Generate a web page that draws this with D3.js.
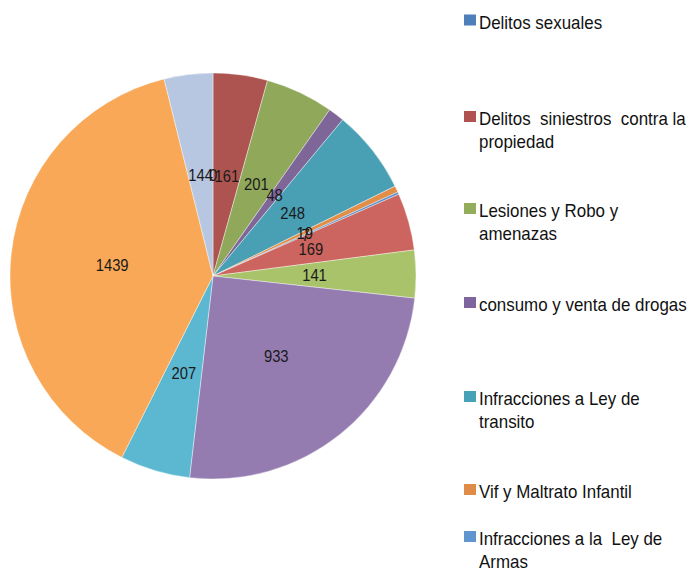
<!DOCTYPE html>
<html>
<head>
<meta charset="utf-8">
<script src="https://cdn.jsdelivr.net/npm/d3@7"></script>
<style>
  html, body { margin: 0; padding: 0; background: #ffffff; }
  svg { display: block; }
  text { font-family: "Liberation Sans", Arial, sans-serif; }
</style>
</head>
<body>
<svg id="chart" width="698" height="571"></svg>
<script>
// ---- data ----
const categories = [
  "Delitos sexuales",
  "Delitos siniestros contra la propiedad",
  "Lesiones y Robo y amenazas",
  "consumo y venta de drogas",
  "Infracciones a Ley de transito",
  "Vif y Maltrato Infantil",
  "Infracciones a la Ley de Armas",
  "Categoría 8",
  "Categoría 9",
  "Categoría 10",
  "Categoría 11",
  "Categoría 12",
  "Categoría 13"
];
const values = [0, 161, 201, 48, 248, 19, 7, 169, 141, 933, 207, 1439, 144];
const sliceColors = [
  "#4f81bd", "#ad5450", "#8fa85a", "#7f6699", "#49a0b4", "#e38e48",
  "#5b91cf", "#cc655f", "#a9c36a", "#947bb0", "#5cb8d1", "#f8a857", "#b8c7e1"
];
// legend shows only the first seven entries (the rest are clipped in the original)
const legendLines = [
  ["Delitos sexuales"],
  ["Delitos  siniestros  contra la", "propiedad"],
  ["Lesiones y Robo y", "amenazas"],
  ["consumo y venta de drogas"],
  ["Infracciones a Ley de", "transito"],
  ["Vif y Maltrato Infantil"],
  ["Infracciones a la  Ley de", "Armas"]
];
const legendColors = ["#4f7fb8", "#b0524f", "#93ad5c", "#7f659d", "#47a2b7", "#de8c48", "#6095d0"];

// ---- layout ----
const cx = 213, cy = 276, r = 203;
const legendBaselines = [28.5, 125, 217, 311, 405, 498, 545];
const legendX = 464, lineH = 23.5;

const svg = d3.select("#chart");
const data = values.map((v, i) => ({ name: categories[i], value: v, color: sliceColors[i] }));

const pie = d3.pie().value(d => d.value).sort(null);
const arc = d3.arc().innerRadius(0).outerRadius(r);
const labelArc = d3.arc().innerRadius(0).outerRadius(r);

const g = svg.append("g").attr("transform", `translate(${cx},${cy})`);
const arcs = pie(data);

g.selectAll("path")
  .data(arcs)
  .join("path")
  .attr("d", arc)
  .attr("fill", d => d.data.color)
  .attr("stroke", "#ffffff")
  .attr("stroke-width", 0.4);

g.selectAll("text.lbl")
  .data(arcs)
  .join("text")
  .attr("class", "lbl")
  .attr("transform", d => {
    const [x, y] = labelArc.centroid(d);
    return `translate(${x},${y}) scale(0.87,1)`;
  })
  .attr("text-anchor", "middle")
  .attr("dy", "0.36em")
  .attr("font-size", 17)
  .attr("fill", "#1a1a1a")
  .text(d => d.data.value);

// ---- legend ----
const lg = svg.append("g");
legendLines.forEach((lines, i) => {
  const by = legendBaselines[i];
  lg.append("rect")
    .attr("x", legendX)
    .attr("y", by - 14)
    .attr("width", 12)
    .attr("height", 11)
    .attr("fill", legendColors[i]);
  const t = lg.append("text")
    .attr("transform", `translate(${legendX + 15},${by}) scale(0.94,1)`)
    .attr("font-size", 18)
    .attr("fill", "#111111")
    .style("white-space", "pre");
  lines.forEach((ln, j) => {
    t.append("tspan").attr("x", 0).attr("y", j * lineH).text(ln);
  });
});
</script>
</body>
</html>
